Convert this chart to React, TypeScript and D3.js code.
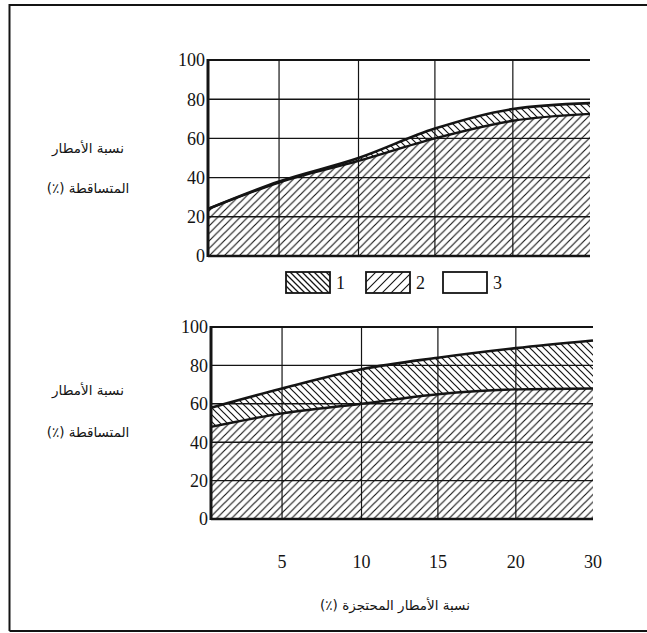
import React from 'react';
import * as d3 from 'd3';

// Retained rainfall (%) on the horizontal axis; the axis is not uniform (last step 20 → 30)
const xStops = [0, 5, 10, 15, 20, 30];
const xTickLabels = ['5', '10', '15', '20', '30'];
const yTicks = [0, 20, 40, 60, 80, 100];

// Upper panel: boundaries between zones 2/1 (lower) and 1/3 (upper)
const topX = [0, 5, 10, 15, 20, 30];
const topUpper = [24, 38, 50, 65, 75, 78];
const topLower = [24, 37.5, 48.5, 60, 69, 72.5];

// Lower panel
const bottomX = [0, 5, 10, 15, 20, 30];
const bottomUpper = [58, 68, 78, 84, 89, 93];
const bottomLower = [48, 55, 60, 65, 67.5, 68];

const legendKeys = ['1', '2', '3'];
const yTitleLines = ['نسبة الأمطار', 'المتساقطة (٪)'];
const xTitle = 'نسبة الأمطار المحتجزة (٪)';

const INK = '#141414';
const SERIF = 'Liberation Serif, Times New Roman, DejaVu Serif, serif';
const ARABIC = 'DejaVu Sans, sans-serif';

// fractional positions of the x stops across the plot width
const stopFractions = [0, 0.186, 0.394, 0.594, 0.798, 1];

type PanelProps = {
  left: number;
  top: number;
  width: number;
  height: number;
  xs: number[];
  upper: number[];
  lower: number[];
  showXLabels: boolean;
  titleY: number[];
};

function Panel({ left, top, width, height, xs, upper, lower, showXLabels, titleY }: PanelProps) {
  const x = d3
    .scaleLinear()
    .domain(xStops)
    .range(stopFractions.map((f) => left + f * width));
  const y = d3.scaleLinear().domain([0, 100]).range([top + height, top]);

  const pts = xs.map((v, i) => ({ x: v, lo: lower[i], hi: upper[i] }));
  const curve = d3.curveMonotoneX;

  const zone2 = d3
    .area<any>()
    .x((d) => x(d.x))
    .y0(() => y(0))
    .y1((d) => y(d.lo))
    .curve(curve)(pts) as string;
  const zone1 = d3
    .area<any>()
    .x((d) => x(d.x))
    .y0((d) => y(d.lo))
    .y1((d) => y(d.hi))
    .curve(curve)(pts) as string;
  const loLine = d3
    .line<any>()
    .x((d) => x(d.x))
    .y((d) => y(d.lo))
    .curve(curve)(pts) as string;
  const hiLine = d3
    .line<any>()
    .x((d) => x(d.x))
    .y((d) => y(d.hi))
    .curve(curve)(pts) as string;

  const x0 = x(0);
  const x1 = x(30);
  const titleX = 88;

  return (
    <g>
      <path d={zone2} fill="url(#hatch-fwd)" />
      <path d={zone1} fill="url(#hatch-back)" />

      {yTicks.map((t) => (
        <line
          key={'h' + t}
          x1={x0}
          x2={x1}
          y1={y(t)}
          y2={y(t)}
          stroke={INK}
          strokeWidth={t === 100 ? 1.8 : 1.4}
        />
      ))}
      {xStops.slice(1, -1).map((v) => (
        <line key={'v' + v} x1={x(v)} x2={x(v)} y1={y(0)} y2={y(100)} stroke={INK} strokeWidth={1.2} />
      ))}

      <path d={loLine} fill="none" stroke={INK} strokeWidth={2.4} />
      <path d={hiLine} fill="none" stroke={INK} strokeWidth={2.6} />

      <line x1={x0} x2={x0} y1={y(100) - 1} y2={y(0) + 1} stroke={INK} strokeWidth={3} />
      <line x1={x0} x2={x1} y1={y(0)} y2={y(0)} stroke={INK} strokeWidth={2.6} />

      {yTicks.map((t) => (
        <text
          key={'yl' + t}
          x={x0 - 3}
          y={y(t)}
          dy="0.35em"
          textAnchor="end"
          fontFamily={SERIF}
          fontSize={18}
          fill={INK}
        >
          {t}
        </text>
      ))}

      {showXLabels &&
        xStops.slice(1).map((v, i) => (
          <text
            key={'xl' + v}
            x={x(v)}
            y={y(0) + 43}
            dy="0.35em"
            textAnchor="middle"
            fontFamily={SERIF}
            fontSize={18}
            fill={INK}
          >
            {xTickLabels[i]}
          </text>
        ))}

      {yTitleLines.map((s, i) => (
        <text
          key={'yt' + i}
          x={titleX}
          y={titleY[i]}
          dy="0.35em"
          textAnchor="middle"
          direction="rtl"
          fontFamily={ARABIC}
          fontSize={13.5}
          fill={INK}
        >
          {s}
        </text>
      ))}
    </g>
  );
}

export default function App() {
  const W = 647;
  const H = 633;

  const legendBoxes = [
    { x: 286, fill: 'url(#hatch-back-sm)' },
    { x: 366, fill: 'url(#hatch-fwd-sm)' },
    { x: 443, fill: 'white' },
  ];

  return (
    <svg
      width={W}
      height={H}
      viewBox={`0 0 ${W} ${H}`}
      style={{ position: 'absolute', left: 0, top: 0, background: 'white' }}
    >
      <defs>
        <pattern id="hatch-fwd" patternUnits="userSpaceOnUse" width={7.5} height={7.5}>
          <path d="M-1.875,1.875 L1.875,-1.875 M0,7.5 L7.5,0 M5.625,9.375 L9.375,5.625" stroke={INK} strokeWidth={1.15} />
        </pattern>
        <pattern id="hatch-back" patternUnits="userSpaceOnUse" width={7} height={7}>
          <path d="M-1.75,5.25 L1.75,8.75 M0,0 L7,7 M5.25,-1.75 L8.75,1.75" stroke={INK} strokeWidth={1.2} />
        </pattern>
        <pattern id="hatch-fwd-sm" patternUnits="userSpaceOnUse" width={9} height={9}>
          <path d="M-2.25,2.25 L2.25,-2.25 M0,9 L9,0 M6.75,11.25 L11.25,6.75" stroke={INK} strokeWidth={1.1} />
        </pattern>
        <pattern id="hatch-back-sm" patternUnits="userSpaceOnUse" width={6} height={6}>
          <path d="M-1.5,4.5 L1.5,7.5 M0,0 L6,6 M4.5,-1.5 L7.5,1.5" stroke={INK} strokeWidth={1.3} />
        </pattern>
      </defs>

      <rect x={0} y={0} width={W} height={H} fill="white" />

      {/* frame */}
      <line x1={9.5} x2={W} y1={5} y2={5} stroke={INK} strokeWidth={2} />
      <line x1={9.5} x2={9.5} y1={4} y2={631} stroke={INK} strokeWidth={2} />
      <line x1={9.5} x2={W} y1={631} y2={631} stroke={INK} strokeWidth={2} />

      <Panel
        left={208}
        top={60}
        width={382}
        height={196}
        xs={topX}
        upper={topUpper}
        lower={topLower}
        showXLabels={false}
        titleY={[148, 188]}
      />

      {legendBoxes.map((b, i) => (
        <g key={'lg' + i}>
          <rect x={b.x} y={272} width={44} height={21} fill={b.fill} stroke={INK} strokeWidth={1.8} />
          <text
            x={b.x + 50}
            y={282.5}
            dy="0.35em"
            fontFamily={SERIF}
            fontSize={18}
            fill={INK}
          >
            {legendKeys[i]}
          </text>
        </g>
      ))}

      <Panel
        left={211}
        top={327}
        width={382}
        height={192}
        xs={bottomX}
        upper={bottomUpper}
        lower={bottomLower}
        showXLabels={true}
        titleY={[390, 432]}
      />

      <text
        x={395}
        y={605}
        dy="0.35em"
        textAnchor="middle"
        direction="rtl"
        fontFamily={ARABIC}
        fontSize={13.5}
        fill={INK}
      >
        {xTitle}
      </text>
    </svg>
  );
}
